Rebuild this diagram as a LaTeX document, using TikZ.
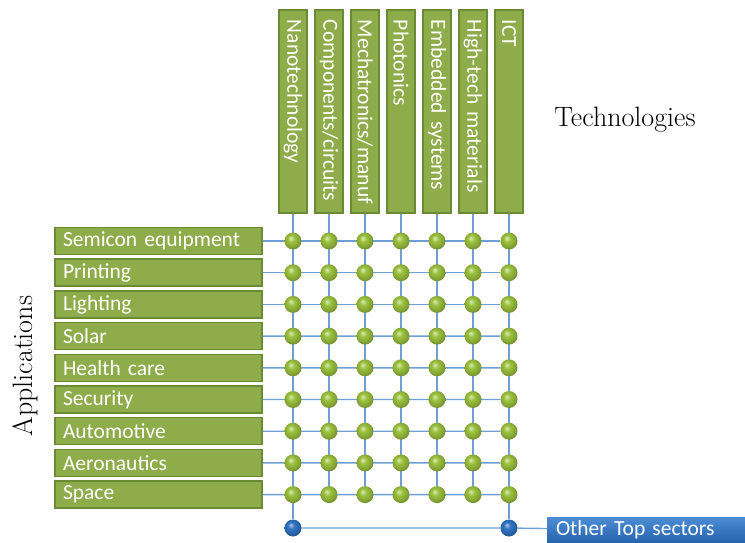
\documentclass[tikz,border=0pt]{standalone}
\usepackage{fontspec}
\newfontfamily\boxfont{Carlito}
\usepackage{tikz}
\usetikzlibrary{backgrounds}

\definecolor{boxgreen}{HTML}{8EAC4A}
\definecolor{boxedge}{HTML}{6B8A35}
\definecolor{ballgreen}{HTML}{9CC23E}
\definecolor{gridblue}{HTML}{6F9FD4}
\definecolor{ballblue}{HTML}{2F74C4}
\definecolor{sectortop}{HTML}{4C8DD4}
\definecolor{sectorbot}{HTML}{2563AD}

%soft highlight for the balls
\pgfdeclareradialshading{greenglow}{\pgfpoint{-7bp}{9bp}}{color(0bp)=(ballgreen!35!white); color(10bp)=(ballgreen); color(22bp)=(ballgreen!85!black); color(30bp)=(ballgreen!70!black); color(50bp)=(ballgreen!70!black)}
\pgfdeclareradialshading{blueglow}{\pgfpoint{-7bp}{9bp}}{color(0bp)=(ballblue!40!white); color(10bp)=(ballblue); color(22bp)=(ballblue!85!black); color(30bp)=(ballblue!70!black); color(50bp)=(ballblue!70!black)}

\tikzset{
	techbox/.style={draw=boxedge, line width=1.5pt, fill=boxgreen, rotate=-90,
		minimum width=203pt, minimum height=28pt, text width=183pt, inner sep=0pt,
		align=left, text=white, font=\boxfont\fontsize{21.5}{24}\selectfont},
	appbox/.style={draw=boxedge, line width=1.5pt, fill=boxgreen,
		minimum width=207pt, minimum height=27pt, text width=191pt, inner sep=0pt,
		align=left, text=white, font=\boxfont\fontsize{21.5}{24}\selectfont},
	sectorbox/.style={top color=sectortop, bottom color=sectorbot, draw=none,
		minimum width=198pt, minimum height=26pt, text width=180pt, inner sep=0pt,
		align=left, text=white, font=\boxfont\fontsize{21.5}{24}\selectfont},
	greenball/.style={circle, minimum size=17pt, inner sep=0pt, shading=greenglow},
	blueball/.style={circle, minimum size=17pt, inner sep=0pt, shading=blueglow},
	gridline/.style={draw=gridblue, line width=1.4pt},
	sidelabel/.style={font=\fontsize{28}{32}\selectfont}
}

\begin{document}
\begin{tikzpicture}[x=1pt,y=-1pt]
	\useasboundingbox (0,0) rectangle (745,543);
	
	%side captions
	\node[sidelabel] (techlabel) at (625,120) {Technologies};
	\node[sidelabel, rotate=90] (applabel) at (25,366) {Applications};
	
	%technology boxes (top)
	\node[techbox] (nano) at (293,111.5) {Nanotechnology};
	\node[techbox] (comp) at (329,111.5) {Components/circuits};
	\node[techbox] (mech) at (365,111.5) {Mechatronics/manuf};
	\node[techbox] (phot) at (401,111.5) {Photonics};
	\node[techbox] (embd) at (437,111.5) {Embedded systems};
	\node[techbox] (matl) at (473,111.5) {High-tech materials};
	\node[techbox] (ict)  at (509,111.5) {ICT};
	
	%application boxes (left)
	\node[appbox] (semi)  at (158.5,241)   {Semicon equipment};
	\node[appbox] (print) at (158.5,272.7) {Printing};
	\node[appbox] (light) at (158.5,304.4) {Lighting};
	\node[appbox] (solar) at (158.5,336.1) {Solar};
	\node[appbox] (health) at (158.5,367.8) {Health care};
	\node[appbox] (secur) at (158.5,399.5) {Security};
	\node[appbox] (auto)  at (158.5,431.2) {Automotive};
	\node[appbox] (aero)  at (158.5,462.9) {Aeronautics};
	\node[appbox] (space) at (158.5,494.6) {Space};
	
	%grid of balls
	\foreach \i in {1,...,9}
		\foreach \j in {1,...,7}
			\node[greenball] (g-\i-\j) at ({257+36*\j},{209.3+31.7*\i}) {};
	
	%other top sectors (bottom)
	\node[blueball] (b1) at (293,528) {};
	\node[blueball] (b2) at (509,528) {};
	\node[sectorbox] (other) at (646,530) {Other Top sectors};
	
	%grid lines, behind the balls
	\begin{scope}[on background layer]
		\foreach \t [count=\j] in {nano,comp,mech,phot,embd,matl,ict}
			\draw[gridline] (\t) -- (g-9-\j);
		\foreach \a [count=\i] in {semi,print,light,solar,health,secur,auto,aero,space}
			\draw[gridline] (\a) -- (g-\i-7);
		\draw[gridline] (g-9-1) -- (b1);		%left drop
		\draw[gridline] (g-9-7) -- (b2);		%right drop
		\draw[gridline] (b1) -- (b2) -- (other);
	\end{scope}
\end{tikzpicture}
\end{document}
